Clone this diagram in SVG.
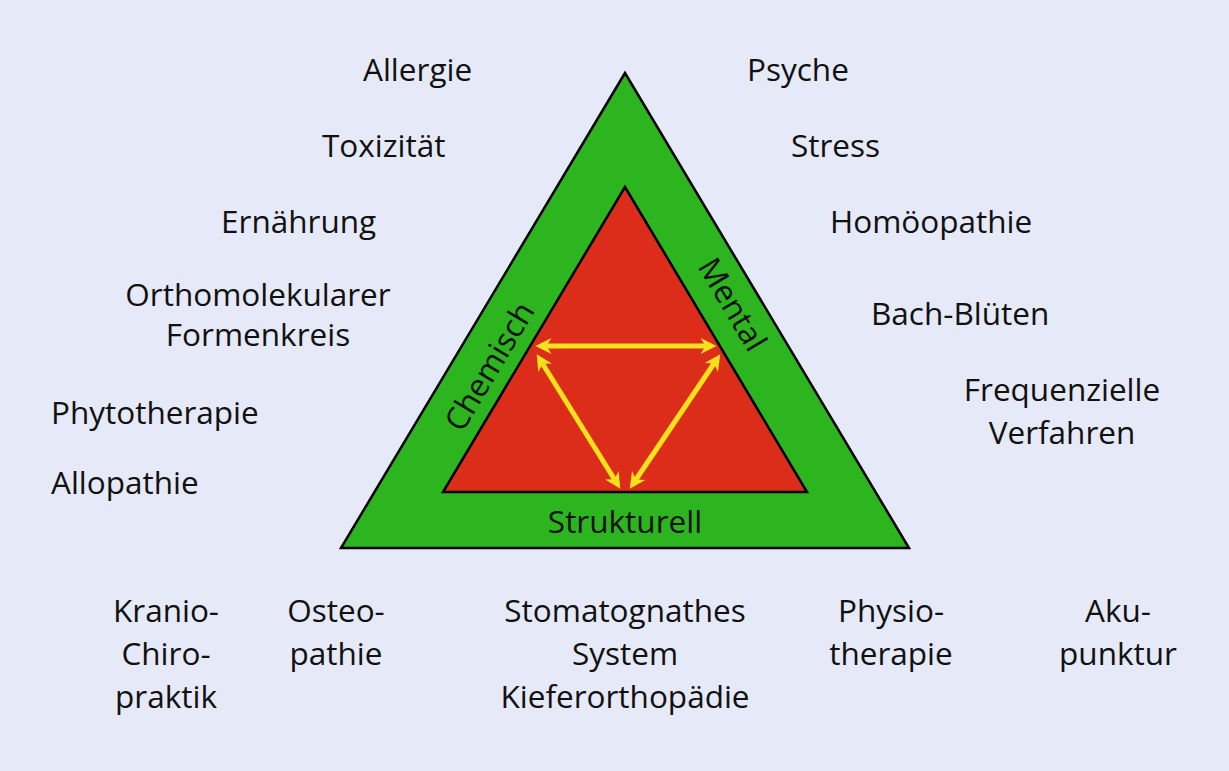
<svg xmlns="http://www.w3.org/2000/svg" width="1229" height="771" viewBox="0 0 1229 771">
<style>
text{font-family:"Open Sans","Noto Sans","DejaVu Sans",sans-serif;font-size:31.5px;fill:#111}
.c{text-anchor:middle}
.ar{stroke:#f7e11c;stroke-width:5;fill:none;marker-start:url(#ah);marker-end:url(#ah)}
</style>
<defs>
<marker id="ah" viewBox="0 0 10 10" refX="3" refY="5" markerWidth="3.6" markerHeight="3.2" orient="auto-start-reverse" markerUnits="strokeWidth">
<path d="M0,0 L10,5 L0,10 L3,5 Z" fill="#f7e11c"/>
</marker>
</defs>
<rect width="1229" height="771" fill="#e6e9f7"/>
<g id="outer"><polygon points="625,73 341,548 909,548" fill="#2db51f" stroke="#000" stroke-width="2.5"/></g>
<g id="inner"><polygon points="625,187 443,492 807,492" fill="#dc2d1a" stroke="#000" stroke-width="2.5"/></g>
<g id="connectors">
<line class="ar" x1="546.6" y1="346" x2="705.4" y2="346"/>
<line class="ar" x1="542.6" y1="363.7" x2="614.4" y2="479.3"/>
<line class="ar" x1="714" y1="363.5" x2="636" y2="479.5"/>
</g>
<g id="side-labels">
<text class="c" transform="translate(499,372) rotate(-59.2)">Chemisch</text>
<text class="c" transform="translate(723,310) rotate(59.2)">Mental</text>
<text class="c" x="625" y="533">Strukturell</text>
</g>
<g id="left">
<text x="363" y="81">Allergie</text>
<text x="322" y="157">Toxizität</text>
<text x="221" y="233">Ernährung</text>
<text class="c" x="258" y="306">Orthomolekularer<tspan x="258" y="346">Formenkreis</tspan></text>
<text x="51" y="424">Phytotherapie</text>
<text x="51" y="494">Allopathie</text>
</g>
<g id="right">
<text x="747" y="81">Psyche</text>
<text x="791" y="157">Stress</text>
<text x="830" y="233">Homöopathie</text>
<text x="871" y="325">Bach-Blüten</text>
<text class="c" x="1062" y="401">Frequenzielle<tspan x="1062" y="444">Verfahren</tspan></text>
</g>
<g id="bottom">
<text class="c" x="166" y="622">Kranio-<tspan x="166" y="665">Chiro-</tspan><tspan x="166" y="708">praktik</tspan></text>
<text class="c" x="336" y="622">Osteo-<tspan x="336" y="665">pathie</tspan></text>
<text class="c" x="625" y="622">Stomatognathes<tspan x="625" y="665">System</tspan><tspan x="625" y="708">Kieferorthopädie</tspan></text>
<text class="c" x="891" y="622">Physio-<tspan x="891" y="665">therapie</tspan></text>
<text class="c" x="1118" y="622">Aku-<tspan x="1118" y="665">punktur</tspan></text>
</g>
</svg>
